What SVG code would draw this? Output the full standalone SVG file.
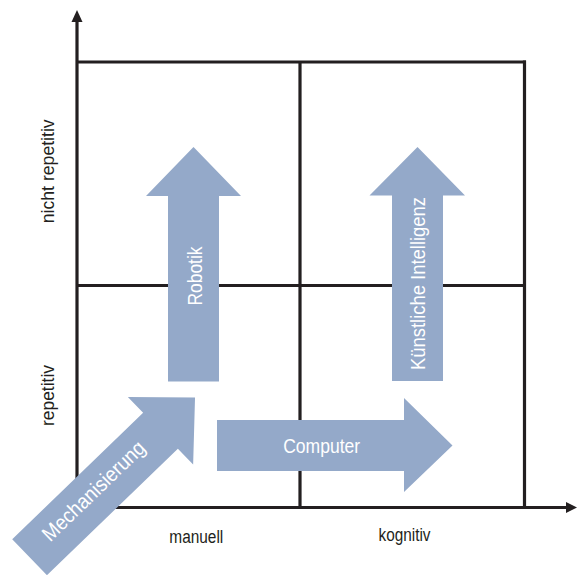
<svg xmlns="http://www.w3.org/2000/svg" width="577" height="575" viewBox="0 0 577 575">
  <style>
    .ln { stroke: #231f20; stroke-width: 3.2; fill: none; }
    .arw { fill: #94a9c9; }
    .lbl { font-family: "Liberation Sans Narrow", "Liberation Sans", Arial, sans-serif; font-size: 21px; fill: #ffffff; text-anchor: middle; }
    .ax { font-family: "Liberation Sans Narrow", "Liberation Sans", Arial, sans-serif; font-size: 18px; fill: #231f20; text-anchor: middle; }
  </style>
  <rect width="577" height="575" fill="#ffffff"/>
  <g id="connectors">
    <g id="grid">
      <line class="ln" x1="77" y1="62" x2="526" y2="62"/>
      <line class="ln" x1="524.5" y1="60.5" x2="524.5" y2="507"/>
      <line class="ln" x1="77" y1="285.5" x2="524" y2="285.5"/>
      <line class="ln" x1="300" y1="62" x2="300" y2="507"/>
    </g>
    <g id="axes">
      <line class="ln" x1="77" y1="20" x2="77" y2="509"/>
      <polygon points="77,10 71.5,22 82.5,22" fill="#231f20"/>
      <line class="ln" x1="75.5" y1="507.5" x2="568" y2="507.5"/>
      <polygon points="577,507.5 566,502 566,513" fill="#231f20"/>
    </g>
  </g>
  <g id="mechanisierung">
    <polygon class="arw" transform="translate(160.5,430.8) rotate(-44)" points="-182,-25 0,-25 0,-47 48,0 0,47 0,25 -182,25"/>
    <text class="lbl" transform="translate(98.5,496) rotate(-44)" x="0" y="0" textLength="134" lengthAdjust="spacingAndGlyphs">Mechanisierung</text>
  </g>
  <g id="robotik">
    <polygon class="arw" points="168,381.5 168,196 146,196 193.5,147 241,196 219,196 219,381.5"/>
    <text class="lbl" transform="translate(201.5,276) rotate(-90)" x="0" y="0" textLength="59" lengthAdjust="spacingAndGlyphs">Robotik</text>
  </g>
  <g id="ki">
    <polygon class="arw" points="392,381 392,195.5 369.5,195.5 417.5,147 465,195.5 443,195.5 443,381"/>
    <text class="lbl" transform="translate(424.5,283.5) rotate(-90)" x="0" y="0" textLength="173" lengthAdjust="spacingAndGlyphs">Künstliche Intelligenz</text>
  </g>
  <g id="computer">
    <polygon class="arw" points="217,420 404,420 404,398 452.5,445.5 404,492 404,471 217,471"/>
    <text class="lbl" x="321.7" y="452.5" textLength="77" lengthAdjust="spacingAndGlyphs">Computer</text>
  </g>
  <g id="labels">
    <text class="ax" x="196.3" y="543" textLength="54" lengthAdjust="spacingAndGlyphs">manuell</text>
    <text class="ax" x="404.5" y="541" textLength="52" lengthAdjust="spacingAndGlyphs">kognitiv</text>
    <text class="ax" transform="translate(54,395.5) rotate(-90)" x="0" y="0" textLength="61" lengthAdjust="spacingAndGlyphs">repetitiv</text>
    <text class="ax" transform="translate(54,171.3) rotate(-90)" x="0" y="0" textLength="104" lengthAdjust="spacingAndGlyphs">nicht repetitiv</text>
  </g>
</svg>
